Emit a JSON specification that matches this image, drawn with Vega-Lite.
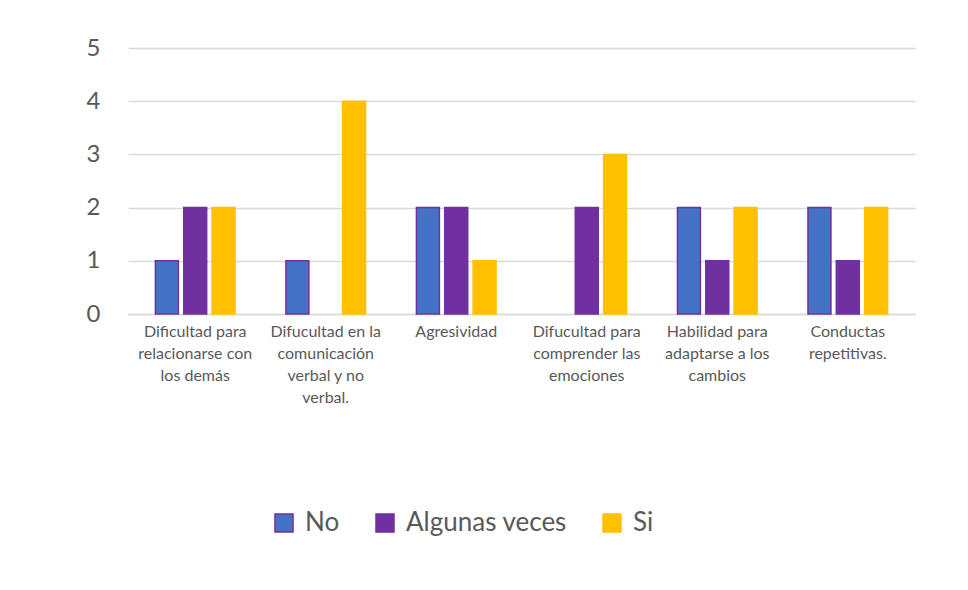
{
  "$schema": "https://vega.github.io/schema/vega-lite/v6.json",
  "width": 787,
  "height": 266,
  "autosize": {"type": "none"},
  "padding": {"left": 128, "top": 48, "right": 53, "bottom": 276},
  "background": "white",
  "config": {
    "view": {"stroke": null},
    "font": "Lato"
  },
  "data": {
    "values": [
      {"Categoria": "Dificultad para relacionarse con los demás", "Serie": "No", "Valor": 1},
      {"Categoria": "Dificultad para relacionarse con los demás", "Serie": "Algunas veces", "Valor": 2},
      {"Categoria": "Dificultad para relacionarse con los demás", "Serie": "Si", "Valor": 2},
      {"Categoria": "Difucultad en la comunicación verbal y no verbal.", "Serie": "No", "Valor": 1},
      {"Categoria": "Difucultad en la comunicación verbal y no verbal.", "Serie": "Si", "Valor": 4},
      {"Categoria": "Agresividad", "Serie": "No", "Valor": 2},
      {"Categoria": "Agresividad", "Serie": "Algunas veces", "Valor": 2},
      {"Categoria": "Agresividad", "Serie": "Si", "Valor": 1},
      {"Categoria": "Difucultad para comprender las emociones", "Serie": "Algunas veces", "Valor": 2},
      {"Categoria": "Difucultad para comprender las emociones", "Serie": "Si", "Valor": 3},
      {"Categoria": "Habilidad para adaptarse a los cambios", "Serie": "No", "Valor": 2},
      {"Categoria": "Habilidad para adaptarse a los cambios", "Serie": "Algunas veces", "Valor": 1},
      {"Categoria": "Habilidad para adaptarse a los cambios", "Serie": "Si", "Valor": 2},
      {"Categoria": "Conductas repetitivas.", "Serie": "No", "Valor": 2},
      {"Categoria": "Conductas repetitivas.", "Serie": "Algunas veces", "Valor": 1},
      {"Categoria": "Conductas repetitivas.", "Serie": "Si", "Valor": 2}
    ]
  },
  "mark": {"type": "bar", "strokeWidth": 1.5},
  "encoding": {
    "x": {
      "field": "Categoria",
      "type": "nominal",
      "sort": null,
      "scale": {"paddingInner": 0.39, "paddingOuter": 0.21},
      "axis": {
        "title": null,
        "labelAngle": 0,
        "labelFontSize": 16,
        "labelColor": "#595959",
        "labelLineHeight": 22,
        "labelPadding": 9,
        "labelBaseline": "top",
        "labelOverlap": false,
        "ticks": false,
        "domainColor": "#d9d9d9",
        "domainWidth": 1.5,
        "labelExpr": "datum.value == 'Dificultad para relacionarse con los demás' ? ['Dificultad para', 'relacionarse con', 'los demás'] : datum.value == 'Difucultad en la comunicación verbal y no verbal.' ? ['Difucultad en la', 'comunicación', 'verbal y no', 'verbal.'] : datum.value == 'Difucultad para comprender las emociones' ? ['Difucultad para', 'comprender las', 'emociones'] : datum.value == 'Habilidad para adaptarse a los cambios' ? ['Habilidad para', 'adaptarse a los', 'cambios'] : datum.value == 'Conductas repetitivas.' ? ['Conductas', 'repetitivas.'] : datum.value"
      }
    },
    "xOffset": {
      "field": "Serie",
      "type": "nominal",
      "sort": ["No", "Algunas veces", "Si"],
      "scale": {"paddingInner": 0.19, "domain": ["No", "Algunas veces", "Si"]}
    },
    "y": {
      "field": "Valor",
      "type": "quantitative",
      "scale": {"domain": [0, 5], "nice": false},
      "axis": {
        "title": null,
        "values": [0, 1, 2, 3, 4, 5],
        "labelOverlap": false,
        "labelFontSize": 24,
        "labelColor": "#595959",
        "labelPadding": 28,
        "ticks": false,
        "domain": false,
        "gridColor": "#d9d9d9",
        "gridWidth": 1.5
      }
    },
    "fill": {
      "field": "Serie",
      "type": "nominal",
      "scale": {"domain": ["No", "Algunas veces", "Si"], "range": ["#4472C4", "#7030A0", "#FFC000"]},
      "legend": {
        "title": null,
        "orient": "none",
        "legendX": 143,
        "legendY": 462,
        "direction": "horizontal",
        "symbolType": "square",
        "symbolSize": 324,
        "symbolStrokeWidth": 1.5,
        "labelFontSize": 26,
        "labelLimit": 0,
        "labelColor": "#595959",
        "labelOffset": 8,
        "columnPadding": 32
      }
    },
    "stroke": {
      "field": "Serie",
      "type": "nominal",
      "scale": {"domain": ["No", "Algunas veces", "Si"], "range": ["#7030A0", "#7030A0", "#FFC000"]},
      "legend": {
        "title": null,
        "orient": "none",
        "legendX": 143,
        "legendY": 462,
        "direction": "horizontal",
        "symbolType": "square",
        "symbolSize": 324,
        "symbolStrokeWidth": 1.5,
        "labelFontSize": 26,
        "labelLimit": 0,
        "labelColor": "#595959",
        "labelOffset": 8,
        "columnPadding": 32
      }
    }
  }
}
